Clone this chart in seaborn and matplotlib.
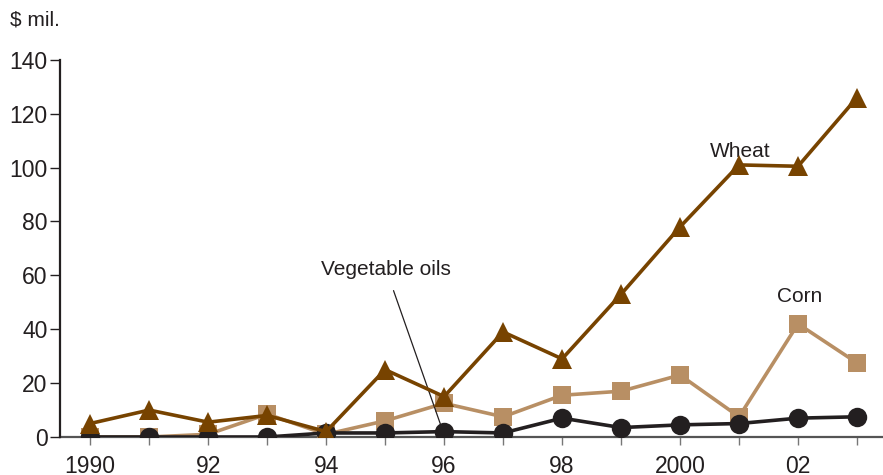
import pandas as pd
import seaborn as sns
import matplotlib.pyplot as plt

years = list(range(1990, 2004))
wheat = [5, 10, 5.5, 8, 2, 25, 15, 39, 29, 53, 78, 101, 100.5, 126]
corn = [0, 0, 1, 8.5, 1, 6, 12.5, 7.5, 15.5, 17, 23, 7.5, 42, 27.5]
veg_oils = [0, 0, 0, 0, 1.5, 1.5, 2, 1.5, 7, 3.5, 4.5, 5, 7, 7.5]
tick_years = [1990, 1992, 1994, 1996, 1998, 2000, 2002]
tick_labels = ['1990', '92', '94', '96', '98', '2000', '02']

data = pd.DataFrame({'year': years, 'Wheat': wheat, 'Corn': corn,
                     'Vegetable oils': veg_oils})

sns.set_style('white')
plt.rcParams['font.family'] = ['Liberation Sans', 'DejaVu Sans']

fig = plt.figure(figsize=(8.83, 4.75), dpi=100)
ax = fig.add_axes([0.068, 0.08, 0.932, 0.794])

sns.lineplot(data=data, x='year', y='Corn', ax=ax, color='#b88f64',
             linewidth=2.6, marker='s', markersize=13, markeredgewidth=0, zorder=2)
sns.lineplot(data=data, x='year', y='Vegetable oils', ax=ax, color='#231f20',
             linewidth=2.6, marker='o', markersize=14, markeredgewidth=0, zorder=3)
sns.lineplot(data=data, x='year', y='Wheat', ax=ax, color='#774300',
             linewidth=2.6, marker='^', markersize=14, markeredgewidth=0, zorder=4)

ax.set_xlim(1989.49, 2003.44)
ax.set_ylim(0, 140)
ax.set_yticks(range(0, 141, 20))
ax.set_xticks(years, minor=True)
ax.set_xticks(tick_years)
ax.set_xticklabels(tick_labels)
ax.set_xlabel('')
ax.set_ylabel('')

for s in ['top', 'right']:
    ax.spines[s].set_visible(False)
ax.spines['left'].set_color('#231f20')
ax.spines['left'].set_linewidth(1.6)
ax.spines['bottom'].set_color('#555555')
ax.spines['bottom'].set_linewidth(1.6)
ax.spines['bottom'].set_zorder(1)

ax.tick_params(axis='y', direction='out', length=7, width=1, color='#231f20',
               labelsize=16.5, pad=2, left=True)
ax.tick_params(axis='x', which='both', direction='out', length=6, width=1,
               color='#777777', labelsize=16.5, pad=7, bottom=True)
for t in ax.get_xticklabels() + ax.get_yticklabels():
    t.set_color('#231f20')

fig.text(0.011, 0.958, '$ mil.', fontsize=15, color='#231f20', va='center')
ax.text(2001.02, 106, 'Wheat', fontsize=15, color='#231f20', ha='center', va='center')
ax.text(2002.03, 52, 'Corn', fontsize=15, color='#231f20', ha='center', va='center')
ax.annotate('Vegetable oils', xy=(1995.95, 4), xytext=(1995.02, 62),
            fontsize=15, color='#231f20', ha='center', va='center',
            arrowprops=dict(arrowstyle='-', color='#231f20', lw=0.9,
                            shrinkA=6, shrinkB=0))

fig.savefig('out.png', dpi=100)
